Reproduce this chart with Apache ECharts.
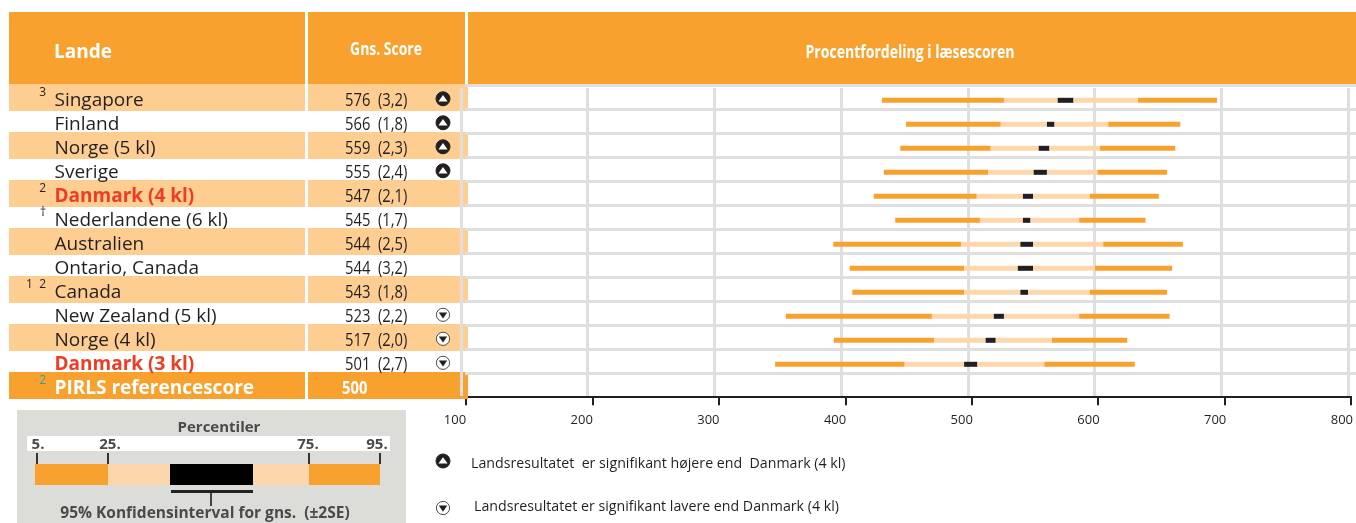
<!DOCTYPE html>
<html lang="da">
<head>
  <meta charset="UTF-8">
  <title>Procentfordeling i læsescoren</title>
  <script src="https://cdn.jsdelivr.net/npm/echarts@6/dist/echarts.min.js"></script>
  <style>
    html, body { margin: 0; padding: 0; background: #fff; overflow: hidden; }
    #chart { width: 1356px; height: 523px; }
  </style>
</head>
<body>
<div id="chart"></div>
<script>
  const countries = ['Singapore', 'Finland', 'Norge (5 kl)', 'Sverige', 'Danmark (4 kl)', 'Nederlandene (6 kl)',
    'Australien', 'Ontario, Canada', 'Canada', 'New Zealand (5 kl)', 'Norge (4 kl)', 'Danmark (3 kl)', 'PIRLS referencescore'];
  const notes = ['3', '', '', '', '2', '†', '', '', '1  2', '', '', '', '2'];
  const scores = ['576', '566', '559', '555', '547', '545', '544', '544', '543', '523', '517', '501', '500'];
  const errors = ['(3,2)', '(1,8)', '(2,3)', '(2,4)', '(2,1)', '(1,7)', '(2,5)', '(3,2)', '(1,8)', '(2,2)', '(2,0)', '(2,7)', ''];
  // 1 = signifikant højere, -1 = signifikant lavere
  const signif = [1, 1, 1, 1, 0, 0, 0, 0, 0, -1, -1, -1, 0];

  const p5 = [429, 448, 443.5, 430.5, 422.5, 439.5, 390.5, 403.5, 405.5, 353, 391, 344.5, null];
  const p25 = [525.5, 523, 515, 513, 504, 506.5, 491.5, 494, 494, 468.5, 470.5, 447, null];
  const ciLow = [568, 559.5, 553, 549, 540.5, 540.5, 538.5, 536.5, 538.5, 517.5, 511, 494, null];
  const ciHigh = [580.5, 565.5, 561.5, 559.5, 548.5, 546.5, 548.5, 548.5, 544.5, 525.5, 519, 504.5, null];
  const p75 = [631.5, 608, 601.5, 599.5, 593.5, 585, 604, 597.5, 593.5, 585, 563.5, 557.5, null];
  const p95 = [694, 665, 661, 654.5, 648, 637.5, 667, 658.5, 654.5, 656.5, 623, 629, null];

  const tickValues = [100, 200, 300, 400, 500, 600, 700, 800];

  const ORANGE = '#f9a12f';
  const BAND = '#fdcd92';
  const LIGHT = '#fcd7ae';
  const DARK = '#231f20';
  const GRID = '#dfdfdf';
  const KEY_TEXT = '#4a4a4a';
  const FONT = '"Open Sans", "Noto Sans", sans-serif';

  function diff(a, b) {
    return a.map((v, i) => (v === null ? null : v - b[i]));
  }

  function stacked(name, data, color) {
    return {
      name: name, type: 'bar', stack: 'dist', xAxisIndex: 0, yAxisIndex: 0, barWidth: 5, z: 5,
      itemStyle: {color: color}, silent: true, data: data
    };
  }

  function marker(cx, cy, up) {
    const r = 7;
    const t = up
      ? [[cx - 4.6, cy + 2.6], [cx + 4.6, cy + 2.6], [cx, cy - 3.8]]
      : [[cx - 4.2, cy - 2.4], [cx + 4.2, cy - 2.4], [cx, cy + 3.8]];
    return [
      {type: 'circle', shape: {cx: cx, cy: cy, r: up ? r : r - 0.4},
        style: {fill: up ? DARK : '#fff', stroke: DARK, lineWidth: up ? 1 : 0.8}},
      {type: 'polygon', shape: {points: t}, style: {fill: up ? '#fff' : DARK}}
    ];
  }

  // the blurry text of the percentile key
  function keyText(text, x, y, size) {
    return {type: 'text', x: x, y: y, style: {
      text: text, fill: KEY_TEXT, font: 'bold ' + size + 'px ' + FONT, align: 'center', verticalAlign: 'middle',
      shadowBlur: 2, shadowColor: 'rgba(70,70,70,0.6)'
    }};
  }

  // coloured cells of a table row, under the grid lines
  function renderBand(params, api) {
    const i = api.value(0);
    const cy = api.coord([0, i])[1];
    const x = (v) => api.coord([v, i])[0];
    const last = i === countries.length - 1;
    if (i % 2 !== 0 && !last) {
      return {type: 'group', children: []};
    }
    return {type: 'group', children: [[0, 296], [299, 160]].map((c) => ({
      type: 'rect', shape: {x: x(c[0]), y: cy - 16.3, width: c[1], height: 27},
      style: {fill: last ? ORANGE : BAND}
    }))};
  }

  // texts and markers of a table row
  function renderRow(params, api) {
    const i = api.value(0);
    const cy = api.coord([0, i])[1];
    const x = (v) => api.coord([v, i])[0];
    const last = i === countries.length - 1;
    const children = [];
    const danish = countries[i].indexOf('Danmark') === 0;
    const bold = danish || last;
    children.push({type: 'text', style: {
      x: x(45.5), y: cy, text: countries[i], verticalAlign: 'middle', font: (bold ? 'bold ' : '') + '19px ' + FONT,
      fill: last ? '#fff' : danish ? '#ee3d23' : DARK
    }});
    if (notes[i]) {
      children.push({type: 'text', style: {
        x: x(37), y: cy - 8, text: notes[i], align: 'right', verticalAlign: 'middle', font: '12px ' + FONT,
        fill: last ? '#2ea5a8' : DARK
      }});
    }
    children.push({type: 'text', x: x(last ? 333 : 336), y: cy + 0.5, scaleX: 0.82, style: {
      x: 0, y: 0, text: scores[i], verticalAlign: 'middle', font: (last ? 'bold ' : '') + '18px ' + FONT,
      fill: last ? '#fff' : DARK
    }});
    if (errors[i]) {
      children.push({type: 'text', x: x(369), y: cy + 0.5, scaleX: 0.82, style: {
        x: 0, y: 0, text: errors[i], verticalAlign: 'middle', font: '18px ' + FONT, fill: DARK
      }});
    }
    if (signif[i] !== 0) {
      marker(x(434), cy - 1.5, signif[i] > 0).forEach((m) => children.push(m));
    }
    return {type: 'group', children: children};
  }

  const chart = echarts.init(document.getElementById('chart'), null, {renderer: 'canvas'});
  const rowData = countries.map((c, i) => [i]);

  const option = {
    animation: false,
    backgroundColor: '#fff',
    grid: [
      {left: 466, top: 88.3, width: 885, height: 312, containLabel: false},
      {left: 461, top: 88, width: 889, height: 308},
      {left: 465, top: 85.3, width: 891, height: 288},
      {left: 9, top: 88.3, width: 459, height: 312}
    ],
    xAxis: [
      {gridIndex: 0, type: 'value', min: 100, max: 800, interval: 100, offset: -4,
        axisLine: {show: true, lineStyle: {color: DARK, width: 2}},
        axisTick: {show: true, length: 9, lineStyle: {color: DARK, width: 2}},
        axisLabel: {show: false}, splitLine: {show: false}},
      {gridIndex: 1, type: 'value', min: 100, max: 800, interval: 100,
        axisLine: {show: false}, axisTick: {show: false}, z: 3,
        axisLabel: {show: true, margin: 18, color: DARK, fontSize: 13, fontFamily: FONT, padding: [0, 12, 0, 0],
          formatter: (v) => (tickValues.indexOf(v) >= 0 ? String(v) : '')},
        splitLine: {show: true, lineStyle: {color: GRID, width: 3}}},
      {gridIndex: 2, type: 'value', min: 0, max: 1, show: false},
      {gridIndex: 3, type: 'value', min: 0, max: 459, show: false}
    ],
    yAxis: [
      {gridIndex: 0, type: 'category', inverse: true, data: countries, show: false},
      {gridIndex: 1, type: 'category', inverse: true, data: countries, show: false},
      {gridIndex: 2, type: 'category', inverse: true, data: countries.slice(0, 12),
        axisLine: {show: false}, axisTick: {show: false}, axisLabel: {show: false}, z: 2,
        splitLine: {show: true, lineStyle: {color: GRID, width: 3}}},
      {gridIndex: 3, type: 'category', inverse: true, data: countries, show: false}
    ],
    series: [
      {type: 'custom', xAxisIndex: 3, yAxisIndex: 3, z: 1, clip: false, silent: true,
        renderItem: renderBand, data: rowData},
      {type: 'custom', xAxisIndex: 3, yAxisIndex: 3, z: 6, clip: false, silent: true,
        renderItem: renderRow, data: rowData},
      stacked('skip', p5, 'rgba(0,0,0,0)'),
      stacked('5-25', diff(p25, p5), ORANGE),
      stacked('25-low', diff(ciLow, p25), LIGHT),
      stacked('ci', diff(ciHigh, ciLow), DARK),
      stacked('high-75', diff(p75, ciHigh), LIGHT),
      stacked('75-95', diff(p95, p75), ORANGE)
    ],
    graphic: {elements: [
      {type: 'rect', shape: {x: 9, y: 12, width: 296, height: 72}, style: {fill: ORANGE}},
      {type: 'rect', shape: {x: 308, y: 12, width: 157, height: 72}, style: {fill: ORANGE}},
      {type: 'rect', shape: {x: 468, y: 12, width: 888, height: 72}, style: {fill: ORANGE}},
      {type: 'text', x: 54, y: 53, style: {text: 'Lande', fill: '#fff', font: 'bold 19px ' + FONT, verticalAlign: 'middle'}},
      {type: 'text', x: 386, y: 50, scaleX: 0.82, style: {text: 'Gns. Score', fill: '#fff', font: 'bold 17px ' + FONT, align: 'center', verticalAlign: 'middle'}},
      {type: 'text', x: 910, y: 53, scaleX: 0.78, style: {text: 'Procentfordeling i læsescoren', fill: '#fff', font: 'bold 18px ' + FONT, align: 'center', verticalAlign: 'middle'}},

      {type: 'group', children: marker(443, 461, true)},
      {type: 'group', children: marker(443, 508, false)},
      {type: 'text', x: 471, y: 464, style: {text: 'Landsresultatet  er signifikant højere end  Danmark (4 kl)', fill: DARK, font: '14.2px ' + FONT, verticalAlign: 'middle'}},
      {type: 'text', x: 474, y: 507, style: {text: 'Landsresultatet er signifikant lavere end Danmark (4 kl)', fill: DARK, font: '14.2px ' + FONT, verticalAlign: 'middle'}},

      // percentile key
      {type: 'rect', shape: {x: 17, y: 410, width: 389, height: 113}, style: {fill: '#dcdcd8'}},
      {type: 'rect', shape: {x: 27, y: 436, width: 363, height: 15}, style: {fill: '#fff'}},
      keyText('Percentiler', 219, 428, 15),
      keyText('5.', 38, 445, 15),
      keyText('25.', 110, 445, 15),
      keyText('75.', 308, 445, 15),
      keyText('95.', 377, 445, 15),
      {type: 'rect', shape: {x: 35, y: 464, width: 73, height: 21}, style: {fill: ORANGE}},
      {type: 'rect', shape: {x: 108, y: 464, width: 201, height: 21}, style: {fill: LIGHT}},
      {type: 'rect', shape: {x: 309, y: 464, width: 71, height: 21}, style: {fill: ORANGE}},
      {type: 'rect', shape: {x: 170, y: 464, width: 83, height: 21}, style: {fill: '#000'}},
      {type: 'rect', shape: {x: 171, y: 490, width: 82, height: 3}, style: {fill: '#222'}},
      {type: 'rect', shape: {x: 210, y: 493, width: 2, height: 13}, style: {fill: '#444'}},
      {type: 'rect', shape: {x: 36, y: 453, width: 2, height: 11}, style: {fill: '#333'}},
      {type: 'rect', shape: {x: 107, y: 453, width: 2, height: 11}, style: {fill: '#333'}},
      {type: 'rect', shape: {x: 308, y: 453, width: 2, height: 11}, style: {fill: '#333'}},
      {type: 'rect', shape: {x: 379, y: 453, width: 2, height: 11}, style: {fill: '#333'}},
      keyText('95% Konfidensinterval for gns.  (±2SE)', 205, 514, 15.5)
    ]}
  };
  chart.setOption(option);
</script>
</body>
</html>
